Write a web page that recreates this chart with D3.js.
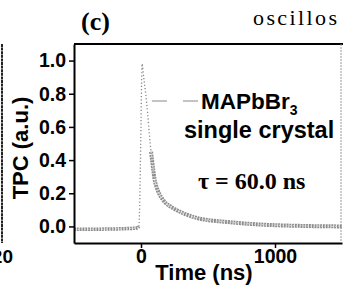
<!DOCTYPE html>
<html>
<head>
<meta charset="utf-8">
<script src="https://cdn.jsdelivr.net/npm/d3@7"></script>
<style>
  body { margin: 0; background: #fff; }
  svg { display: block; }
</style>
</head>
<body>
<script>
// photocurrent transient
var timeNs = [-500, -420, -340, -260, -180, -100, -50, -25, -16, -10, -5, 0, 4, 8,
              20, 35, 50, 62, 75, 90, 100, 115, 134, 160, 185, 210, 250, 300,
              360, 430, 520, 600, 680, 800, 920, 1050, 1200, 1350, 1500];
var tpc = [-0.018, -0.017, -0.017, -0.016, -0.015, -0.013, -0.011, -0.008, 0.0, 0.12, 0.35, 0.62, 0.85, 0.98,
           0.90, 0.80, 0.68, 0.56, 0.45, 0.35, 0.29, 0.24, 0.20, 0.165, 0.14, 0.125, 0.105, 0.085,
           0.065, 0.048, 0.036, 0.030, 0.024, 0.016, 0.010, 0.006, 0.003, 0.001, 0.0];
var xTicks = [0, 1000];
var yTicks = [0, 0.2, 0.4, 0.6, 0.8, 1.0];
var legendLabel = 'MAPbBr';
var legendSub = '3';
var legendLine2 = 'single crystal';
var tauLabel = '\u03c4 = 60.0 ns';

var W = 343, H = 289;
var m = {left: 74, right: 1, top: 44, bottom: 46};

var svg = d3.select('body').append('svg')
    .attr('width', W)
    .attr('height', H);

var x = d3.scaleLinear().domain([-500, 1500]).range([m.left, W - m.right]);
var y = d3.scaleLinear().domain([-0.1, 1.1]).range([H - m.bottom, m.top]);

var sans = '"Liberation Sans", Arial, sans-serif';
var serif = '"Liberation Serif", "Times New Roman", serif';

// bit of the neighbouring panel on the left
svg.append('line')
    .attr('x1', 2).attr('x2', 2)
    .attr('y1', m.top).attr('y2', H - m.bottom)
    .attr('stroke', '#222').attr('stroke-width', 2)
    .attr('stroke-dasharray', '3 0.6');
svg.append('text')
    .attr('x', 13).attr('y', 263)
    .attr('text-anchor', 'end')
    .attr('font-family', sans).attr('font-weight', 'bold').attr('font-size', 19)
    .text('20');

// panel letter + stray caption text
svg.append('text')
    .attr('x', 81).attr('y', 30)
    .attr('font-family', serif).attr('font-weight', 'bold').attr('font-size', 26)
    .text('(c)');
svg.append('text')
    .attr('x', 253).attr('y', 25)
    .attr('font-family', serif).attr('font-size', 22)
    .attr('letter-spacing', 2.4)
    .text('oscillos');

// data
var pts = timeNs.map(function(t, i) { return [t, tpc[i]]; });
var line = d3.line()
    .x(function(d) { return x(d[0]); })
    .y(function(d) { return y(d[1]); })
    .curve(d3.curveMonotoneX);

var before = pts.filter(function(d) { return d[0] <= -16; });
var steep = pts.filter(function(d) { return d[0] >= -16 && d[0] <= 100; });
var after = pts.filter(function(d) { return d[0] >= 75; });

svg.append('path')
    .attr('d', line(steep))
    .attr('fill', 'none')
    .attr('stroke', '#888')
    .attr('stroke-width', 1.3)
    .attr('stroke-dasharray', '1.2 2.2');
[before, after].forEach(function(seg, i) {
    svg.append('path')
        .attr('d', line(seg))
        .attr('fill', 'none')
        .attr('stroke', '#8d8d8d')
        .attr('stroke-width', i ? 4 : 3.5)
        .attr('stroke-dasharray', '2 0.8');
    svg.append('path')
        .attr('d', line(seg))
        .attr('fill', 'none')
        .attr('stroke', '#d6d6d6')
        .attr('stroke-width', 1.2)
        .attr('stroke-dasharray', '1.5 2');
});

// axes
var yAxis = d3.axisLeft(y).tickValues(yTicks).tickFormat(d3.format('.1f'))
    .tickSizeInner(5).tickSizeOuter(0).tickPadding(3);
var xAxis = d3.axisBottom(x).tickValues(xTicks).tickFormat(d3.format('d'))
    .tickSizeInner(5).tickSizeOuter(0).tickPadding(1);

var gy = svg.append('g')
    .attr('transform', 'translate(' + m.left + ',0)')
    .call(yAxis);
var gx = svg.append('g')
    .attr('transform', 'translate(0,' + (H - m.bottom) + ')')
    .call(xAxis);

[gx, gy].forEach(function(g) {
    g.select('.domain').attr('stroke', '#000').attr('stroke-width', 2);
    g.selectAll('.tick line').attr('stroke', '#000').attr('stroke-width', 1.5);
    g.selectAll('.tick text')
        .attr('fill', '#000')
        .attr('font-family', sans)
        .attr('font-weight', 'bold')
        .attr('font-size', 19.5);
});

// frame top + right
svg.append('line')
    .attr('x1', m.left).attr('x2', W)
    .attr('y1', m.top).attr('y2', m.top)
    .attr('stroke', '#000').attr('stroke-width', 2);
svg.append('line')
    .attr('x1', W - 2).attr('x2', W - 2)
    .attr('y1', m.top).attr('y2', H - m.bottom)
    .attr('stroke', '#999').attr('stroke-width', 1)
    .attr('stroke-dasharray', '2 1');

// axis titles
svg.append('text')
    .attr('x', 204).attr('y', 280)
    .attr('text-anchor', 'middle')
    .attr('font-family', sans).attr('font-weight', 'bold').attr('font-size', 22)
    .text('Time (ns)');
svg.append('text')
    .attr('transform', 'translate(28,148) rotate(-90)')
    .attr('text-anchor', 'middle')
    .attr('font-family', sans).attr('font-weight', 'bold').attr('font-size', 22)
    .text('TPC (a.u.)');

// legend
svg.append('line')
    .attr('x1', 152).attr('x2', 198)
    .attr('y1', 101).attr('y2', 101)
    .attr('stroke', '#888').attr('stroke-width', 1)
    .attr('stroke-dasharray', '15 16');
var lt = svg.append('text')
    .attr('x', 201).attr('y', 109)
    .attr('font-family', sans).attr('font-weight', 'bold').attr('font-size', 22.5);
lt.append('tspan').text(legendLabel);
lt.append('tspan').attr('font-size', 14).attr('dy', 6).text(legendSub);
svg.append('text')
    .attr('x', 184).attr('y', 138)
    .attr('font-family', sans).attr('font-weight', 'bold').attr('font-size', 23.5)
    .text(legendLine2);
svg.append('text')
    .attr('x', 198).attr('y', 189)
    .attr('font-family', serif).attr('font-weight', 'bold').attr('font-size', 24)
    .text(tauLabel);
</script>
</body>
</html>
